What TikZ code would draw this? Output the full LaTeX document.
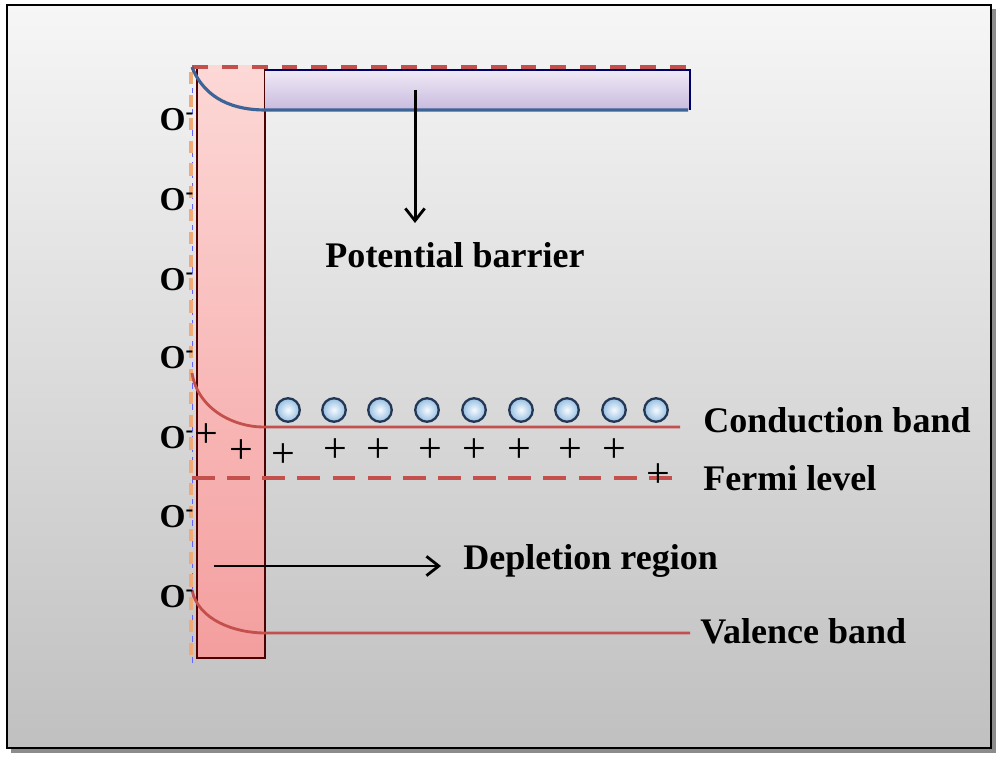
\documentclass[tikz,border=0pt]{standalone}
\usepackage{fontspec}
\setmainfont{Liberation Serif}
\usetikzlibrary{arrows.meta,shadings}
\definecolor{bandred}{RGB}{196,80,78}
\definecolor{ored}{RGB}{240,170,120}
\definecolor{pinktop}{RGB}{252,216,214}
\definecolor{pinkbot}{RGB}{244,158,158}
\definecolor{lavtop}{RGB}{240,234,246}
\definecolor{lavbot}{RGB}{200,186,222}
\definecolor{barblue}{RGB}{60,100,150}
\definecolor{bgtop}{RGB}{246,246,246}
\definecolor{bgbot}{RGB}{192,192,192}
\definecolor{elin}{RGB}{245,250,255}
\definecolor{elout}{RGB}{150,190,225}
\definecolor{eldraw}{RGB}{35,55,85}
\tikzset{
  lbl/.style={font=\fontsize{20.5}{24}\selectfont\bfseries, anchor=west, inner sep=0pt},
  olbl/.style={font=\fontsize{19}{22}\selectfont\bfseries, inner sep=0pt},
  plus/.style={font=\fontsize{24}{26}\selectfont, inner sep=0pt},
  band/.style={bandred, line width=1.6pt},
  electron/.style={circle, minimum size=23.5*0.02cm, inner sep=0pt, draw=eldraw, line width=1.3pt, inner color=elin, outer color=elout},
  arr/.style={-{Straight Barb[length=7pt,width=11pt,line width=1.6pt]}, line width=1.7pt}
}
\begin{document}
\begin{tikzpicture}[x=0.02cm,y=-0.02cm]
\useasboundingbox (0,0) rectangle (1000,759);
% background frame
\fill[black!45] (11,9) rectangle (996,753);
\shade[top color=bgtop, bottom color=bgbot, draw=black, line width=1.2pt] (7,5) rectangle (991,748);
% depletion rectangle
\shade[top color=pinktop, bottom color=pinkbot] (197,66) rectangle (265,658);
\draw[black!70!red, line width=0.9pt] (197,66) -- (197,658) -- (265,658) -- (265,66);
% barrier bar
\shade[top color=lavtop, bottom color=lavbot] (265,70) rectangle (690,110);
\draw[black!60!blue, line width=0.9pt] (265,70) -- (690,70) -- (690,110);
% surface dashed lines
\draw[blue!60, dashed, line width=0.5pt] (192,67) -- (192,665);
\draw[ored, dash pattern=on 7pt off 6pt, line width=2pt] (191,72) -- (191,665);
% top dashed red
\draw[bandred, dash pattern=on 9pt off 8pt, line width=2.4pt] (192,67) -- (690,67);
% blue barrier curve
\draw[barblue, line width=1.8pt] (192,67) .. controls (205,100) and (235,110) .. (265,110) -- (688,110);
% conduction band
\coordinate (cbs) at (192,373);
\coordinate (cbe) at (680,427);
\draw[band] (cbs) .. controls (198,410) and (235,427) .. (263,427) -- (cbe);
% fermi level
\coordinate (fls) at (192,478);
\coordinate (fle) at (680,478);
\draw[bandred, dash pattern=on 13pt off 7pt, line width=1.8pt] (fls) -- (fle);
% valence band
\coordinate (vbs) at (192,590);
\coordinate (vbe) at (690,633);
\draw[band] (vbs) .. controls (198,620) and (235,633) .. (265,633) -- (vbe);
% electrons
\foreach \i/\x in {1/288,2/334,3/380,4/427,5/474,6/521,7/567,8/614,9/656}
  \node[electron] (e\i) at (\x,410) {};
% plus signs
\foreach \i/\x/\y in {1/206/436,2/241/452,3/283/456,4/335/451,5/378/451,6/430/451,7/474/451,8/519/451,9/570/451,10/614/451,11/658/476}
  \node[plus] (p\i) at (\x,\y) {+};
% O- labels
\foreach \i/\y in {1/120,2/200,3/280,4/358,5/438,6/517,7/597}
  \node[olbl] (o\i) at (177,\y) {O\textsuperscript{-}};
% labels
\node[lbl] (cb) at (703,420) {Conduction band};
\node[lbl] (fl) at (703,478) {Fermi level};
\node[lbl] (vb) at (700,631) {Valence band};
\node[lbl] (dr) at (463,561) {Depletion region};
\node[lbl, anchor=center] (pb) at (455,255) {Potential barrier};
% arrows
\coordinate (pbs) at (415,90);
\coordinate (pbe) at (415,223);
\draw[arr] (pbs) -- (pbe);
\coordinate (drs) at (214,566);
\coordinate (dre) at (441,566);
\draw[arr] (drs) -- (dre);
\end{tikzpicture}
\end{document}
